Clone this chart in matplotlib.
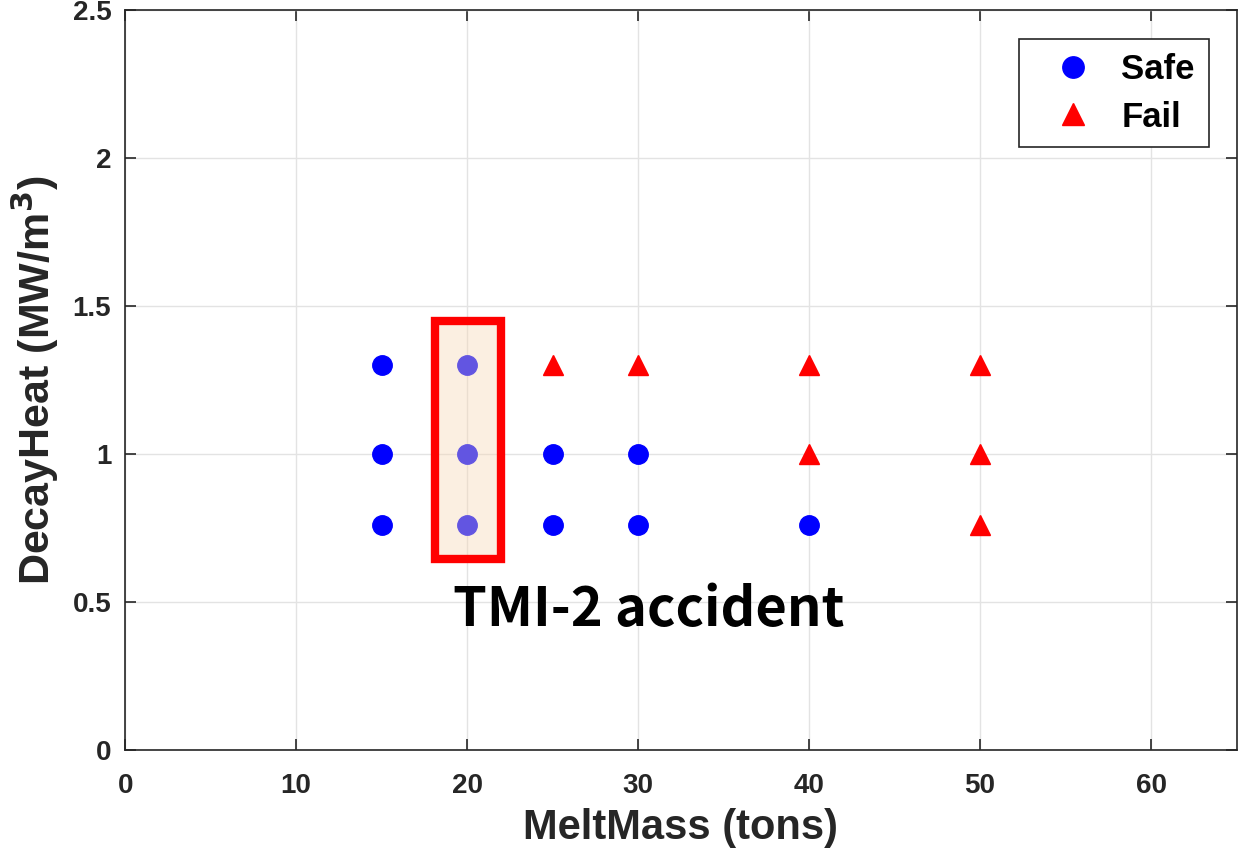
import matplotlib
matplotlib.use("Agg")
import matplotlib.pyplot as plt
from matplotlib.patches import Rectangle

# data
safe_mass = [15, 15, 15, 20, 20, 20, 25, 25, 30, 30, 40]
safe_heat = [1.3, 1.0, 0.76, 1.3, 1.0, 0.76, 1.0, 0.76, 1.0, 0.76, 0.76]
fail_mass = [25, 30, 40, 40, 50, 50, 50]
fail_heat = [1.3, 1.3, 1.3, 1.0, 1.3, 1.0, 0.76]

# TMI-2 box (x0, x1, y0, y1)
tmi_box = [18.1, 22.0, 0.645, 1.45]
tmi_label = "TMI-2 accident"

xticks = [0, 10, 20, 30, 40, 50, 60]
yticks = [0, 0.5, 1, 1.5, 2, 2.5]
yticklabels = ["0", "0.5", "1", "1.5", "2", "2.5"]

plt.rcParams['font.family'] = ['Liberation Sans', 'DejaVu Sans']

fig = plt.figure(figsize=(12.39, 8.57), dpi=100)
ax = fig.add_axes([0.101, 0.125, 0.897, 0.863])

ax.plot(safe_mass, safe_heat, 'o', color='#0000ff', markersize=14, label='Safe', zorder=3)
ax.plot(fail_mass, fail_heat, '^', color='#ff0000', markersize=14, label='Fail', zorder=3)

# shaded box drawn above the markers, then the red frame
x0, x1, y0, y1 = tmi_box
ax.add_patch(Rectangle((x0, y0), x1 - x0, y1 - y0, facecolor=(247/255, 215/255, 181/255),
                       alpha=0.4, edgecolor='none', zorder=4))
ax.add_patch(Rectangle((x0, y0), x1 - x0, y1 - y0, facecolor='none',
                       edgecolor='#ff0000', linewidth=6, zorder=5))

ax.text(19.2, 0.42, tmi_label, fontsize=39, fontweight='bold',
        family=['Noto Sans CJK KR', 'DejaVu Sans'], color='black', zorder=6)

ax.set_xlim(0, 65)
ax.set_ylim(0, 2.5)
ax.set_xticks(xticks)
ax.set_yticks(yticks)
ax.set_yticklabels(yticklabels)
ax.grid(True, color='#e3e3e3', linewidth=1)
ax.set_axisbelow(True)

ax.tick_params(direction='in', top=True, right=True, length=8, width=1.2,
               color='#262626', labelsize=20)
ax.tick_params(axis='x', pad=17)
ax.tick_params(axis='y', pad=10)
for lab in ax.get_xticklabels() + ax.get_yticklabels():
    lab.set_fontweight('bold')
    lab.set_color('#262626')
for sp in ax.spines.values():
    sp.set_color('#262626')
    sp.set_linewidth(1.2)

ax.set_xlabel("MeltMass (tons)", fontsize=30, fontweight='bold', color='#262626', labelpad=6)
ax.set_ylabel(r"DecayHeat (MW/m$^{\mathbf{3}}$)", fontsize=31, fontweight='bold', color='#262626', labelpad=8)

leg = ax.legend(loc='upper right', bbox_to_anchor=(0.975, 0.961), borderaxespad=0,
                prop={'weight': 'bold', 'size': 25},
                fancybox=False, edgecolor='#262626', framealpha=1, handletextpad=0.25,
                borderpad=0.4, labelspacing=0.42, handlelength=2.3, markerscale=1.1)
leg.get_frame().set_linewidth(1.2)

fig.savefig("out.png", dpi=100)
